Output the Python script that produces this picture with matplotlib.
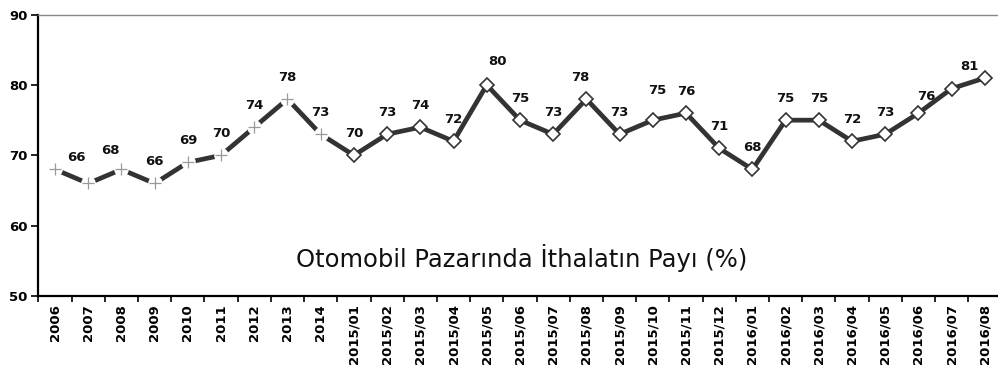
import matplotlib
matplotlib.use("Agg")
import matplotlib.pyplot as plt
import numpy as np

periods = ["2006", "2007", "2008", "2009", "2010", "2011", "2012", "2013", "2014",
           "2015/01", "2015/02", "2015/03", "2015/04", "2015/05", "2015/06",
           "2015/07", "2015/08", "2015/09", "2015/10", "2015/11", "2015/12",
           "2016/01", "2016/02", "2016/03", "2016/04", "2016/05", "2016/06",
           "2016/07", "2016/08"]
import_share = [68, 66, 68, 66, 69, 70, 74, 78, 73,
                70, 73, 74, 72, 80, 75, 73, 78, 73, 75, 76, 71,
                68, 75, 75, 72, 73, 76, 79.5, 81]
# yearly points first, then monthly
n_yearly = 9
# points left without a value label
unlabelled = {0, 27}
# nudges (px) for labels that would sit on the line
label_nudge = {1: (-12, 4), 2: (-11, -3), 13: (11, 2), 16: (-6, 0),
               18: (4, 8), 26: (8, -5), 28: (-15, -10)}

x = np.arange(len(periods))
y = np.array(import_share, dtype=float)

fig = plt.figure(figsize=(9.98, 3.71), dpi=100)
ax = fig.add_axes([0.0385, 0.2022, 0.965, 0.7582])

line_color = "#333333"
ax.plot(x, y, color=line_color, lw=3.4, zorder=2, solid_joinstyle="miter")
# yearly points: thin grey crosses with a small white gap around them
ax.plot(x[:n_yearly], y[:n_yearly], ls="none", marker="o", ms=10.5, mew=0,
        mfc="white", zorder=2.5)
ax.plot(x[:n_yearly], y[:n_yearly], ls="none", marker="+", ms=9, mew=0.9,
        color="#9a9a9a", zorder=3)
ax.plot(x[n_yearly:], y[n_yearly:], ls="none", marker="D", ms=6.8, mew=1.2,
        mfc="white", mec=line_color, zorder=3)

for i, (xi, yi) in enumerate(zip(x, y)):
    if i in unlabelled:
        continue
    dx, dy = label_nudge.get(i, (0, 0))
    ax.annotate(f"{yi:.0f}", (xi, yi), xytext=(dx * 0.72, (15 + dy) * 0.72),
                textcoords="offset points", ha="center", va="bottom",
                fontsize=9.5, fontweight="bold", color="#111111", zorder=4)

ax.text(0.502, 0.103, "Otomobil Pazarında İthalatın Payı (%)", transform=ax.transAxes,
        ha="center", va="baseline", fontsize=17.5, color="#111111")

ax.set_xlim(-0.5, len(periods) - 0.5)
ax.set_ylim(50, 90)
ax.set_yticks([50, 60, 70, 80, 90])
ax.set_yticklabels(["50", "60", "70", "80", "90"], fontweight="bold", fontsize=9.5)

ax.set_xticks(np.arange(len(periods) + 1) - 0.5)
ax.set_xticklabels([])
ax.set_xticks(x, minor=True)
ax.set_xticklabels(periods, minor=True, rotation=90, fontweight="bold", fontsize=9.5)
ax.tick_params(axis="x", which="major", length=4, width=1.2, direction="out")
ax.tick_params(axis="x", which="minor", length=0, pad=6)
ax.tick_params(axis="y", length=5, width=1.2, direction="out", pad=3)

ax.spines["right"].set_visible(False)
ax.spines["top"].set_color("#888888")
ax.spines["top"].set_linewidth(1.0)
ax.spines["left"].set_linewidth(1.6)
ax.spines["bottom"].set_linewidth(1.6)

fig.savefig("out.png", dpi=100)
